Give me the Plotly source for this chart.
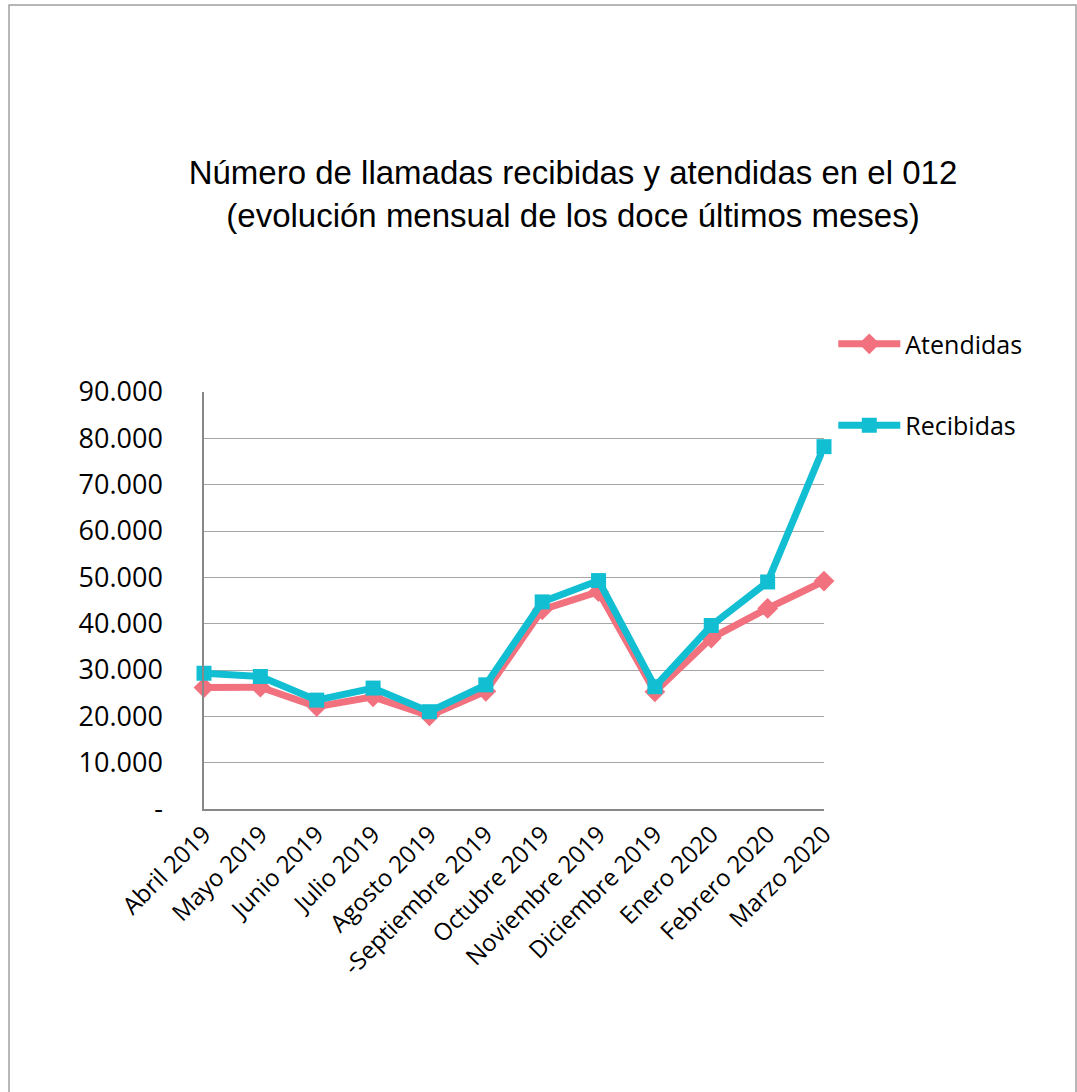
import plotly.graph_objects as go

# Monthly calls to 012: received vs. answered
meses = ["Abril 2019", "Mayo 2019", "Junio 2019", "Julio 2019", "Agosto 2019",
         "-Septiembre 2019", "Octubre 2019", "Noviembre 2019", "Diciembre 2019",
         "Enero 2020", "Febrero 2020", "Marzo 2020"]
atendidas = [26200, 26300, 22100, 24200, 20100, 25400, 43000, 46900, 25300, 36900, 43300, 49200]
recibidas = [29300, 28600, 23500, 26100, 21000, 26800, 44700, 49300, 26400, 39600, 49000, 78200]

y_ticks = [0, 10000, 20000, 30000, 40000, 50000, 60000, 70000, 80000, 90000]
y_labels = ["-" if v == 0 else f"{v:,}".replace(",", ".") for v in y_ticks]

PINK = "#F2717E"
CYAN = "#12BED2"

fig = go.Figure()
fig.add_trace(go.Scatter(
    x=meses, y=atendidas, name="Atendidas", legendgroup="a",
    mode="lines+markers", cliponaxis=False,
    line=dict(color=PINK, width=7),
    marker=dict(symbol="diamond", size=16, color=PINK),
))
fig.add_trace(go.Scatter(
    x=meses, y=recibidas, name="Recibidas", legendgroup="r",
    mode="lines+markers", cliponaxis=False,
    line=dict(color=CYAN, width=7),
    marker=dict(symbol="square", size=15, color=CYAN),
))

# outer chart frame
fig.add_shape(type="rect", xref="paper", yref="paper",
              x0=-0.3145, x1=1.4065, y0=-0.75, y1=1.928,
              line=dict(color="#A0A0A0", width=1.5), fillcolor="rgba(0,0,0,0)",
              layer="below")

fig.update_layout(
    width=1077, height=1092,
    margin=dict(l=204, r=253, t=392, b=283),
    paper_bgcolor="white", plot_bgcolor="white",
    font=dict(family="Open Sans", color="#000000"),
    title=dict(
        text="Número de llamadas recibidas y atendidas en el 012<br>(evolución mensual de los doce últimos meses)",
        x=0.532, xref="container", xanchor="center",
        y=1 - 184 / 1092, yref="container", yanchor="middle",
        font=dict(family="Liberation Sans", size=33, color="#000000"),
    ),
    showlegend=True,
    legend=dict(
        x=1.015, xanchor="left", y=1.17, yanchor="top",
        traceorder="grouped", tracegroupgap=46, itemwidth=62,
        font=dict(family="Open Sans", size=25, color="#000000"),
        bgcolor="rgba(0,0,0,0)",
    ),
    xaxis=dict(
        type="category", range=[0, 11], showgrid=False,
        showline=True, linecolor="#888888", linewidth=1.5,
        tickangle=-45, ticks="",
        tickfont=dict(family="Open Sans", size=24, color="#000000"),
    ),
    yaxis=dict(
        range=[0, 90000], tickvals=y_ticks, ticktext=y_labels,
        showgrid=True, gridcolor="#A6A6A6", gridwidth=1.2,
        showline=True, linecolor="#888888", linewidth=1.5,
        zeroline=False, ticks="", ticklabelstandoff=34,
        tickfont=dict(family="Open Sans", size=27, color="#000000"),
    ),
)

fig.write_html("out.html")
